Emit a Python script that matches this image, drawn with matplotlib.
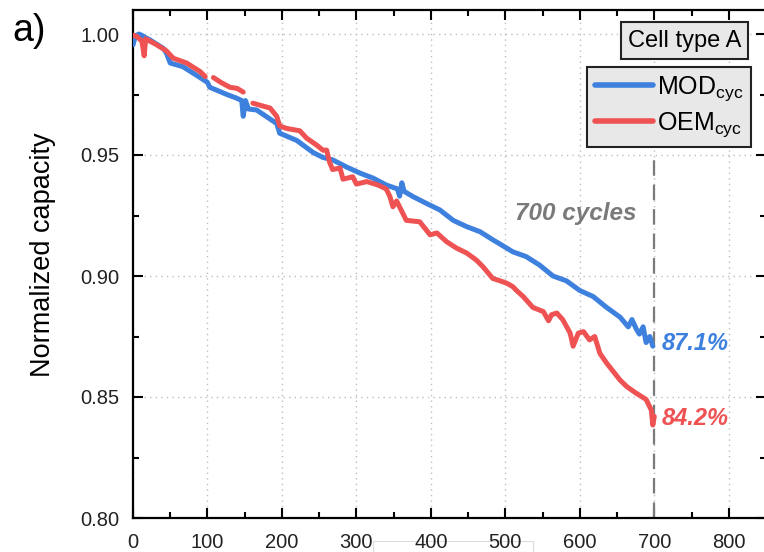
import numpy as np
import matplotlib
matplotlib.use("Agg")
import matplotlib.pyplot as plt
from matplotlib.patches import Rectangle
from matplotlib.ticker import MultipleLocator, FormatStrFormatter

plt.rcParams['font.family'] = ['Liberation Sans', 'DejaVu Sans']
plt.rcParams['mathtext.fontset'] = 'custom'
plt.rcParams['mathtext.rm'] = 'Liberation Sans'
plt.rcParams['mathtext.it'] = 'Liberation Sans:italic'

# MOD_cyc (blue)
mod_cicli = [0, 3, 8, 23, 41, 45, 50, 67, 85, 100, 103, 126, 139, 146, 148, 151, 155,
             166, 193, 197, 220, 242, 255, 268, 287, 305, 322, 340, 355, 358, 361, 364,
             376, 394, 412, 430, 448, 466, 483, 502, 510, 528, 546, 564, 582, 600, 618,
             636, 654, 665, 670, 676, 680, 685, 689, 694, 698]
mod_cap = [0.9955, 0.999, 1.000, 0.9975, 0.994, 0.992, 0.988, 0.9865, 0.983, 0.980, 0.978,
           0.975, 0.9735, 0.9725, 0.966, 0.9725, 0.969, 0.9686, 0.963, 0.959, 0.956, 0.951,
           0.949, 0.948, 0.945, 0.9425, 0.9405, 0.9376, 0.936, 0.933, 0.9385, 0.935, 0.9328,
           0.930, 0.9273, 0.923, 0.9204, 0.9183, 0.915, 0.9115, 0.910, 0.908, 0.9045, 0.900,
           0.898, 0.894, 0.8915, 0.887, 0.883, 0.879, 0.882, 0.878, 0.876, 0.879, 0.8725,
           0.875, 0.871]

# OEM_cyc (red) - NaN = interruzioni della curva
oem_cicli = [0, 5, 12, 15, 17, 32, 45, 54, 72, 90, 97, 102, 108, 118, 130, 140, 148, 154,
             161, 184, 193, 197, 206, 224, 233, 247, 255, 260, 264, 268, 278, 282, 295, 300,
             314, 329, 340, 345, 349, 354, 367, 385, 399, 408, 421, 434, 448, 461, 470, 483,
             493, 502, 510, 515, 524, 537, 551, 558, 562, 569, 577, 587, 591, 598, 605, 613,
             620, 627, 636, 645, 654, 663, 676, 689, 696, 698, 700]
oem_cap = [0.9995, 0.999, 0.997, 0.991, 0.998, 0.9955, 0.993, 0.990, 0.988, 0.9845, 0.9824,
           np.nan, 0.982, 0.980, 0.978, 0.9775, 0.976, np.nan, 0.9714, 0.9694, 0.966, 0.962,
           0.961, 0.960, 0.957, 0.954, 0.952, 0.952, 0.947, 0.944, 0.9446, 0.940, 0.941,
           0.938, 0.939, 0.9376, 0.936, 0.9328, 0.9286, 0.931, 0.923, 0.9224, 0.917, 0.9178,
           0.9142, 0.9116, 0.9095, 0.9066, 0.9038, 0.899, 0.898, 0.897, 0.8956, 0.894,
           0.8915, 0.887, 0.8853, 0.8815, 0.884, 0.8847, 0.882, 0.8764, 0.871, 0.8764, 0.877,
           0.8736, 0.875, 0.868, 0.864, 0.8605, 0.857, 0.8543, 0.8515, 0.849, 0.8446,
           0.8384, 0.842]

ciclo_limite = 700
etichette_finali = {'MOD': ('87.1%', 0.8723), 'OEM': ('84.2%', 0.8413)}

blu = '#3d80de'
rosso = '#ee5253'
grigio = '#7a7a7a'

fig = plt.figure(figsize=(7.64, 5.52), dpi=100)
ax = fig.add_axes([133 / 764, 1 - 518 / 552, 633 / 764, (518 - 9.8) / 552])

ax.plot(mod_cicli, mod_cap, color=blu, lw=3.6, solid_capstyle='round',
        solid_joinstyle='round', zorder=3, label=r'MOD$_{\mathrm{cyc}}$')
ax.plot(oem_cicli, oem_cap, color=rosso, lw=3.6, solid_capstyle='round',
        solid_joinstyle='round', zorder=3, label=r'OEM$_{\mathrm{cyc}}$')

ax.vlines(ciclo_limite, 0.80, 0.948, colors=grigio, linestyles=(0, (7, 4)), lw=1.6, zorder=2)
ax.text(676, 0.926, '700 cycles', color=grigio, fontsize=17.5, fontweight='bold',
        fontstyle='italic', ha='right', va='center')
ax.text(710, etichette_finali['MOD'][1], etichette_finali['MOD'][0], color=blu, fontsize=17,
        fontweight='bold', fontstyle='italic', ha='left', va='center')
ax.text(710, etichette_finali['OEM'][1], etichette_finali['OEM'][0], color=rosso, fontsize=17,
        fontweight='bold', fontstyle='italic', ha='left', va='center')

ax.set_xlim(0, 850)
ax.set_ylim(0.80, 1.01)
ax.xaxis.set_major_locator(MultipleLocator(100))
ax.xaxis.set_minor_locator(MultipleLocator(50))
ax.yaxis.set_major_locator(MultipleLocator(0.05))
ax.yaxis.set_minor_locator(MultipleLocator(0.025))
ax.yaxis.set_major_formatter(FormatStrFormatter('%.2f'))
ax.tick_params(which='both', direction='in', top=True, right=True, width=1.5,
               labelsize=14.5, labelcolor='#222222')
ax.tick_params(which='major', length=7)
ax.tick_params(which='minor', length=4)
ax.tick_params(axis='x', which='major', pad=11)
ax.tick_params(axis='y', which='major', pad=10)
for sp in ax.spines.values():
    sp.set_linewidth(1.6)
ax.grid(True, which='major', linestyle=(0, (1, 3)), color='#bdbdbd', lw=1.0)
ax.set_ylabel('Normalized capacity', fontsize=19.5)
ax.yaxis.set_label_coords((56 - 133) / 633, (518 - 255) / 508.2)

leg = ax.legend(loc='upper right', bbox_to_anchor=(751 / 764, 1 - 67 / 552),
                bbox_transform=fig.transFigure, fontsize=18, frameon=True, fancybox=False,
                handlelength=2.35, handletextpad=0.15, borderpad=0.3, labelspacing=0.3,
                borderaxespad=0)
leg.get_frame().set_facecolor('#e8e8e8')
leg.get_frame().set_edgecolor('#222222')
leg.get_frame().set_linewidth(1.5)
leg.get_frame().set_alpha(1)
for linea in leg.get_lines():
    linea.set_linewidth(4)

fig.text(684.5 / 764, 1 - 40.5 / 552, 'Cell type A', fontsize=17, ha='center', va='center',
         bbox=dict(boxstyle='square,pad=0.3', fc='#e8e8e8', ec='#222222', lw=1.5))
fig.text(12 / 764, 1 - 31 / 552, 'a)', fontsize=27, ha='left', va='center')

fig.add_artist(Rectangle((373 / 764, 0), (533 - 373) / 764, 11 / 552, fill=False,
                         ec='#dcdcdc', lw=0.8, transform=fig.transFigure, zorder=-1))

fig.savefig('out.png', dpi=100)
